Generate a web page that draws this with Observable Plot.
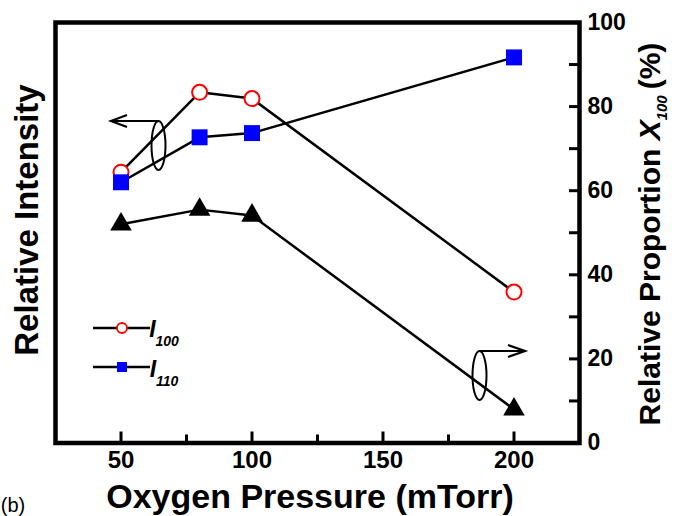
<!DOCTYPE html>
<html>
<head>
<meta charset="utf-8">
<script src="https://cdn.jsdelivr.net/npm/d3@7"></script>
<script src="https://cdn.jsdelivr.net/npm/@observablehq/plot@0.6"></script>
<style>
  html, body { margin: 0; padding: 0; background: #fff; }
  #chart svg { display: block; }
</style>
</head>
<body>
<div id="chart"></div>
<script>
// ---- data ----
const pressure = [50, 80, 100, 200];           // Oxygen pressure (mTorr)
const i100 = [64.4, 83.4, 81.9, 35.9];          // I100 relative intensity (plotted on shared frame)
const i110 = [62.0, 72.7, 73.7, 91.7];          // I110 relative intensity
const x100 = [52.0, 55.5, 54.1, 8.0];           // Relative proportion X100 (%)
const xMajorTicks = [50, 100, 150, 200];
const xMinorTicks = [75, 125, 175];
const yMajorTicks = [0, 20, 40, 60, 80, 100];
const yMinorTicks = [10, 30, 50, 70, 90];

const rows = pressure.map((p, i) => ({p, i100: i100[i], i110: i110[i], x100: x100[i]}));

const W = 675, H = 516;
const mL = 55, mR = 96, mT = 22, mB = 73.5;
const pw = W - mL - mR, ph = H - mT - mB;
const FONT = "'Liberation Sans', Arial, Helvetica, sans-serif";

const chart = Plot.plot({
  width: W, height: H,
  marginLeft: mL, marginRight: mR, marginTop: mT, marginBottom: mB,
  style: {fontFamily: FONT, fontWeight: "bold", background: "#fff", color: "#000", overflow: "visible"},
  x: {domain: [25, 225]},
  y: {domain: [0, 100]},
  marks: [
    // inward ticks
    Plot.tickX(xMajorTicks, {x: d => d, insetTop: ph - 11, stroke: "#000", strokeWidth: 3}),
    Plot.tickX(xMinorTicks, {x: d => d, insetTop: ph - 8, stroke: "#000", strokeWidth: 3}),
    Plot.tickY(yMajorTicks, {y: d => d, insetLeft: pw - 10, stroke: "#000", strokeWidth: 3}),
    Plot.tickY(yMinorTicks, {y: d => d, insetLeft: pw - 10, stroke: "#000", strokeWidth: 3}),
    Plot.axisX({ticks: xMajorTicks, tickSize: 0, tickPadding: 8, fontSize: 24, label: null}),
    Plot.axisY({anchor: "right", ticks: yMajorTicks, tickSize: 0, tickPadding: 8, fontSize: 23, label: null}),
    // series lines
    Plot.line(rows, {x: "p", y: "i100", stroke: "#000", strokeWidth: 2.5}),
    Plot.line(rows, {x: "p", y: "i110", stroke: "#000", strokeWidth: 2.5}),
    Plot.line(rows, {x: "p", y: "x100", stroke: "#000", strokeWidth: 2.5}),
    // markers
    Plot.dot(rows, {x: "p", y: "x100", symbol: "triangle", r: 8, fill: "#000", stroke: "none"}),
    Plot.dot(rows, {x: "p", y: "i100", symbol: "circle", r: 7.5, fill: "#fff", stroke: "#ff0000", strokeWidth: 2}),
    Plot.dot(rows, {x: "p", y: "i110", symbol: "square", r: 9, fill: "#0000ff", stroke: "none"}),
    Plot.frame({stroke: "#000", strokeWidth: 4.5})
  ]
});

document.getElementById("chart").appendChild(chart);

const svg = d3.select(chart);

// Axis titles
svg.append("text")
  .attr("transform", "translate(38,220) rotate(-90)")
  .attr("text-anchor", "middle")
  .style("font-family", FONT).style("font-weight", "bold").style("font-size", "33px")
  .text("Relative Intensity");

svg.append("text")
  .attr("x", 310).attr("y", 508)
  .attr("text-anchor", "middle")
  .style("font-family", FONT).style("font-weight", "bold").style("font-size", "34px")
  .text("Oxygen Pressure (mTorr)");

const rt = svg.append("text")
  .attr("transform", "translate(660,234) rotate(-90)")
  .attr("text-anchor", "middle")
  .style("font-family", FONT).style("font-weight", "bold").style("font-size", "30px");
rt.append("tspan").text("Relative Proportion ");
rt.append("tspan").style("font-style", "italic").text("X");
rt.append("tspan").style("font-style", "italic").style("font-size", "15px").attr("dy", 7).text("100");
rt.append("tspan").attr("dy", -7).text("\u2009(%)");

svg.append("text")
  .attr("x", 13).attr("y", 512)
  .style("font-family", FONT).style("font-weight", "normal").style("font-size", "20px")
  .text("(b)");

// Legend
const lg = svg.append("g").attr("stroke", "#000");
lg.append("line").attr("x1", 93).attr("x2", 150).attr("y1", 328).attr("y2", 328).attr("stroke-width", 2.5);
lg.append("circle").attr("cx", 122).attr("cy", 328).attr("r", 5).attr("fill", "#fff").attr("stroke", "#ff0000").attr("stroke-width", 1.8);
lg.append("line").attr("x1", 93).attr("x2", 150).attr("y1", 367).attr("y2", 367).attr("stroke-width", 2.5);
lg.append("rect").attr("x", 117).attr("y", 362).attr("width", 10).attr("height", 10).attr("fill", "#0000ff").attr("stroke", "none");

function legendLabel(y, sub) {
  const t = svg.append("text").attr("x", 164).attr("y", y)
    .style("font-family", FONT).style("font-weight", "bold").style("font-style", "italic").style("font-size", "23px");
  t.append("tspan").text("I");
  t.append("tspan").attr("dy", 9).style("font-size", "14px").text(sub);
}
legendLabel(337, "100");
legendLabel(377, "110");

// Annotations: ellipses with arrows pointing to the related axis
const an = svg.append("g").attr("fill", "none").attr("stroke", "#000").attr("stroke-width", 2);
an.append("ellipse").attr("cx", 158.5).attr("cy", 145.5).attr("rx", 7).attr("ry", 24.5);
an.append("line").attr("x1", 158.5).attr("y1", 121).attr("x2", 111).attr("y2", 121);
an.append("path").attr("d", "M127,115 L111,121 L127,127").attr("stroke-width", 2.2);
an.append("ellipse").attr("cx", 479.5).attr("cy", 375.5).attr("rx", 7).attr("ry", 24.5);
an.append("line").attr("x1", 479.5).attr("y1", 351).attr("x2", 525).attr("y2", 351);
an.append("path").attr("d", "M508,345 L525,351 L508,357").attr("stroke-width", 2.2);
</script>
</body>
</html>
